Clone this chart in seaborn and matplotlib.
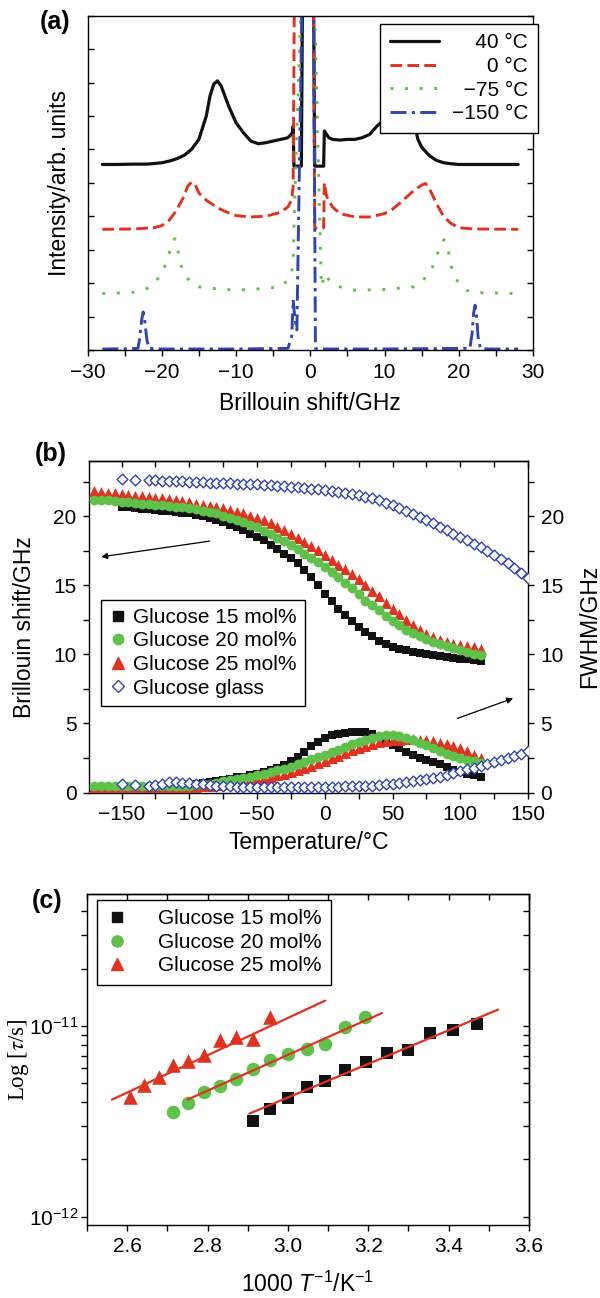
import matplotlib
matplotlib.use('Agg')
import matplotlib.pyplot as plt
import seaborn as sns
import pandas as pd
from matplotlib.lines import Line2D
from matplotlib.ticker import MultipleLocator, LogLocator, NullFormatter, FormatStrFormatter, FixedLocator

sns.set_theme(style='ticks')
plt.rcParams['font.family'] = ['Liberation Sans', 'DejaVu Sans']
plt.rcParams['mathtext.fontset'] = 'custom'
plt.rcParams['mathtext.rm'] = 'Liberation Sans'
plt.rcParams['mathtext.it'] = 'Liberation Sans:italic'
plt.rcParams['mathtext.bf'] = 'Liberation Sans:bold'
plt.rcParams['axes.linewidth'] = 1.0
plt.rcParams['axes.edgecolor'] = 'black'
plt.rcParams['xtick.color'] = 'black'
plt.rcParams['ytick.color'] = 'black'
plt.rcParams['text.color'] = 'black'
plt.rcParams['axes.labelcolor'] = 'black'

# ---------------- Panel (a): Brillouin spectra ----------------
spec40_x = [-28, -26, -24, -22, -20, -19, -18, -17, -16, -15, -14, -13.5, -13, -12.5, -12, -11.5, -11, -10,
            -9, -8, -7, -6, -5, -4, -3, -2.4, -2.3, -2.2, -1.2, -1.0, -0.5, 0.2, 0.4, 0.6, 1.8, 1.9, 2.5, 3,
            4, 5, 6, 7, 8, 9, 10, 11, 12, 12.5, 13, 13.5, 14, 14.5, 15, 16, 17, 18, 19, 20, 22, 24, 26, 28]
spec40_y = [5.55, 5.55, 5.56, 5.56, 5.6, 5.65, 5.72, 5.82, 6.0, 6.3, 7.0, 7.6, 7.95, 8.05, 7.9, 7.6, 7.3, 6.8,
            6.5, 6.25, 6.17, 6.2, 6.25, 6.3, 6.35, 6.5, 6.7, 5.5, 5.5, 12, 12, 12, 12, 5.5, 5.5, 6.55, 6.35, 6.3,
            6.28, 6.3, 6.3, 6.35, 6.45, 6.7, 6.9, 7.3, 7.8, 8.0, 7.9, 7.4, 6.8, 6.3, 6.07, 5.82, 5.67, 5.6, 5.57,
            5.55, 5.55, 5.55, 5.55, 5.55]
spec0_x = [-28, -24, -21, -20, -19, -18, -17, -16.5, -16, -15.5, -15, -14, -13, -12, -11, -10, -8, -6, -4, -3,
           -2.5, -2.3, -2.1, 0.4, 0.6, 1.8, 1.9, 2.2, 3, 4, 6, 8, 10, 11, 12, 13, 14, 15, 15.5, 16, 17, 18, 19,
           20, 22, 28]
spec0_y = [3.61, 3.62, 3.66, 3.72, 3.88, 4.18, 4.6, 4.9, 5.02, 4.95, 4.7, 4.48, 4.33, 4.2, 4.1, 4.02, 3.98, 4.0,
           4.12, 4.28, 4.5, 4.9, 12, 12, 3.65, 3.65, 5.0, 4.6, 4.28, 4.08, 3.98, 3.98, 4.08, 4.2, 4.38, 4.58,
           4.78, 4.93, 4.98, 4.85, 4.38, 3.98, 3.78, 3.66, 3.62, 3.61]
spec75_x = [-28, -24, -22, -21, -20, -19.5, -19, -18.5, -18.2, -18, -17.5, -17, -16, -15, -13, -10, -6, -4, -3,
            -2.5, -2.3, -2.1, -1.0, 0.4, 1.5, 2.0, 2.5, 3, 4, 6, 10, 14, 15, 16, 16.5, 17, 17.5, 18, 18.5, 19,
            19.5, 20, 21, 22, 28]
spec75_y = [1.69, 1.72, 1.84, 1.99, 2.29, 2.55, 2.89, 3.28, 3.33, 3.18, 2.59, 2.29, 1.99, 1.89, 1.84, 1.79,
            1.84, 1.89, 2.09, 2.34, 2.7, 4.5, 12, 12, 1.9, 2.29, 2.1, 1.99, 1.89, 1.79, 1.81, 1.89, 2.04, 2.29,
            2.5, 2.79, 3.13, 3.3, 3.08, 2.49, 2.2, 1.99, 1.79, 1.72, 1.69]
spec150_x = [-28, -24, -23.2, -23.0, -22.7, -22.5, -22.3, -22.0, -21.7, -20, -10, -3, -2.5, -2.3, -2.1, -1.8,
             -1.0, 0.4, 0.7, 1, 10, 21.5, 21.8, 22.0, 22.2, 22.4, 22.6, 22.9, 24, 28]
spec150_y = [0.03, 0.04, 0.05, 0.3, 0.9, 1.14, 0.9, 0.3, 0.05, 0.03, 0.03, 0.05, 0.4, 1.5, 1.0, 0.6, 12, 12,
             0.05, 0.03, 0.03, 0.05, 0.5, 1.1, 1.34, 1.0, 0.4, 0.05, 0.03, 0.03]
spec_labels = ['\u2007\u200740 \u00b0C', '\u2007\u2007\u20070 \u00b0C', '\u2007\u221275 \u00b0C', '\u2212150 \u00b0C']

# ---------------- Panel (b): Brillouin shift and FWHM vs T ----------------
T_15 = [-150, -145, -140, -135, -130, -125, -120, -115, -110, -105, -100, -95, -90, -85, -80, -75, -70, -65,
        -60, -55, -50, -45, -40, -35, -30, -25, -20, -15, -10, -5, 0, 5, 10, 15, 20, 25, 30, 35, 40, 45, 50,
        55, 60, 65, 70, 75, 80, 85, 90, 95, 100, 105, 110, 115]
bs_15 = [20.7, 20.65, 20.6, 20.55, 20.5, 20.45, 20.4, 20.35, 20.3, 20.25,
         20.2, 20.1, 20.0, 19.85, 19.7, 19.55, 19.4, 19.2, 19.0, 18.75,
         18.5, 18.25, 17.95, 17.65, 17.3, 16.95, 16.6, 16.1, 15.6, 15.0,
         14.4, 13.85, 13.3, 12.85, 12.4, 12.0, 11.6, 11.3, 11.0, 10.75,
         10.55, 10.42, 10.3, 10.2, 10.1, 10.02, 9.95, 9.88, 9.82, 9.76,
         9.7, 9.64, 9.58, 9.5]
fw_15 = [0.35, 0.35, 0.4, 0.4, 0.4, 0.45, 0.45, 0.5, 0.5, 0.55, 0.6, 0.65, 0.7,
         0.75, 0.83, 0.9, 1.0, 1.1, 1.15, 1.25, 1.34, 1.45, 1.6,
         1.75, 2.0, 2.25, 2.6, 2.95, 3.35, 3.65, 3.95, 4.15, 4.25,
         4.33, 4.38, 4.4, 4.35, 4.2, 4.0, 3.75, 3.45, 3.2, 2.95,
         2.75, 2.5, 2.35, 2.22, 2.05, 1.85, 1.65, 1.5, 1.35, 1.25, 1.15]
T_20 = [-170, -165, -160, -155] + T_15
bs_20 = [21.2, 21.2, 21.15, 21.1, 21.05, 21.0, 20.95, 20.92, 20.9, 20.85,
         20.8, 20.75, 20.7, 20.65, 20.6, 20.5, 20.4, 20.3, 20.2, 20.05,
         19.9, 19.75, 19.6, 19.4, 19.2, 18.95, 18.7, 18.45, 18.2, 17.9,
         17.6, 17.3, 17.0, 16.7, 16.35, 16.0, 15.6, 15.2, 14.8, 14.35,
         13.9, 13.55, 13.2, 12.8, 12.4, 12.1, 11.8, 11.55, 11.3, 11.1,
         10.9, 10.75, 10.6, 10.45, 10.3, 10.18, 10.05, 9.95]
fw_20 = [0.45, 0.45, 0.45, 0.45, 0.45, 0.45, 0.45, 0.45, 0.45, 0.45, 0.45, 0.45, 0.45, 0.5, 0.5, 0.55, 0.6, 0.65,
         0.72, 0.8, 0.88, 0.97, 1.06, 1.15, 1.24, 1.35, 1.47, 1.6,
         1.73, 1.88, 2.05, 2.22, 2.4, 2.6, 2.7, 2.9, 3.1, 3.3,
         3.5, 3.65, 3.82, 3.95, 4.08, 4.15, 4.18, 4.1, 3.95, 3.8,
         3.6, 3.42, 3.2, 3.0, 2.82, 2.65, 2.5, 2.38, 2.25, 2.15]
T_25 = T_20
bs_25 = [21.8, 21.75, 21.7, 21.65, 21.6, 21.55, 21.5, 21.45, 21.4, 21.35,
         21.3, 21.22, 21.15, 21.08, 21.0, 20.92, 20.85, 20.77, 20.7, 20.57,
         20.45, 20.32, 20.2, 20.05, 19.9, 19.7, 19.5, 19.25, 19.0, 18.72,
         18.45, 18.15, 17.85, 17.55, 17.2, 16.85, 16.5, 16.2, 15.85, 15.45,
         15.05, 14.6, 14.2, 13.75, 13.3, 12.9, 12.5, 12.15, 11.8, 11.5,
         11.25, 11.05, 10.9, 10.78, 10.68, 10.58, 10.5, 10.4]
fw_25 = [0.4, 0.4, 0.4, 0.4, 0.4, 0.4, 0.4, 0.4, 0.4, 0.4, 0.4, 0.4, 0.4, 0.4, 0.4,
         0.42, 0.45, 0.5, 0.55, 0.6, 0.65, 0.72, 0.8, 0.88, 0.96,
         1.05, 1.15, 1.25, 1.37, 1.5, 1.63, 1.78, 1.95, 2.12, 2.3,
         2.48, 2.67, 2.86, 3.05, 3.22, 3.38, 3.52, 3.63, 3.72, 3.78,
         3.82, 3.84, 3.84, 3.82, 3.77, 3.7, 3.6, 3.48, 3.35, 3.2,
         3.0, 2.75, 2.47]
T_glass = [-150, -140, -130, -125, -120, -115, -110, -105, -100, -95, -90, -85, -80, -75, -70, -65, -60, -55,
           -50, -45, -40, -35, -30, -25, -20, -15, -10, -5, 0, 5, 10, 15, 20, 25, 30, 35, 40, 45, 50, 55, 60,
           65, 70, 75, 80, 85, 90, 95, 100, 105, 110, 115, 120, 125, 130, 135, 140, 145, 150]
bs_glass = [22.7, 22.65,
            22.6, 22.6, 22.58, 22.56, 22.55, 22.53, 22.5, 22.48, 22.46, 22.44,
            22.42, 22.4, 22.38, 22.36, 22.34, 22.32, 22.3, 22.27, 22.24, 22.21,
            22.18, 22.14, 22.1, 22.05, 22.0, 21.95, 21.88, 21.82, 21.75, 21.68,
            21.6, 21.52, 21.42, 21.3, 21.15, 20.97, 20.8, 20.6, 20.35, 20.15,
            19.92, 19.7, 19.48, 19.25, 19.0, 18.75, 18.5, 18.28, 18.02, 17.78,
            17.5, 17.2, 16.9, 16.6, 16.25, 15.9, 15.55]
fw_glass = [0.6, 0.55,
            0.5, 0.55, 0.6, 0.75, 0.78, 0.72, 0.68, 0.62, 0.58, 0.52,
            0.48, 0.45, 0.44, 0.43, 0.42, 0.42, 0.42, 0.42, 0.42, 0.42,
            0.42, 0.42, 0.42, 0.42, 0.42, 0.42, 0.42, 0.43, 0.43, 0.44,
            0.45, 0.46, 0.48, 0.5, 0.53, 0.58, 0.64, 0.7, 0.77, 0.84,
            0.9, 0.97, 1.05, 1.15, 1.25, 1.4, 1.55, 1.68, 1.8, 1.93,
            2.08, 2.22, 2.36, 2.5, 2.62, 2.8, 2.97]
b_labels = ['Glucose 15 mol%', 'Glucose 20 mol%', 'Glucose 25 mol%', 'Glucose glass']

# ---------------- Panel (c): relaxation time ----------------
invT_15 = [2.913, 2.956, 3.001, 3.047, 3.093, 3.143, 3.194, 3.246, 3.299, 3.354, 3.411, 3.471]
tau_15 = [3.17e-12, 3.65e-12, 4.17e-12, 4.80e-12, 5.16e-12, 5.86e-12, 6.48e-12, 7.23e-12, 7.52e-12,
          9.19e-12, 9.57e-12, 1.03e-11]
invT_20 = [2.715, 2.752, 2.792, 2.830, 2.872, 2.913, 2.956, 3.001, 3.047, 3.093, 3.143, 3.193]
tau_20 = [3.55e-12, 3.95e-12, 4.51e-12, 4.83e-12, 5.30e-12, 5.98e-12, 6.67e-12, 7.11e-12, 7.61e-12,
          8.01e-12, 9.88e-12, 1.12e-11]
invT_25 = [2.607, 2.642, 2.679, 2.715, 2.752, 2.792, 2.830, 2.872, 2.913, 2.956]
tau_25 = [4.22e-12, 4.89e-12, 5.40e-12, 6.22e-12, 6.56e-12, 7.02e-12, 8.41e-12, 8.75e-12, 8.51e-12, 1.11e-11]
fit15_x = [2.904, 3.523]
fit15_y = [3.47e-12, 1.22e-11]
fit20_x = [2.750, 3.234]
fit20_y = [4.11e-12, 1.17e-11]
fit25_x = [2.562, 3.093]
fit25_y = [4.11e-12, 1.36e-11]
c_labels = ['Glucose 15 mol%', 'Glucose 20 mol%', 'Glucose 25 mol%']
c_major = [1e-12, 1e-11]
c_minor = [2e-12, 3e-12, 4e-12, 5e-12, 6e-12, 7e-12, 8e-12, 9e-12, 2e-11, 3e-11, 4e-11]

# ---------------- styling ----------------
BLACK = '#111111'
RED = '#e0321f'
GREEN = '#5fc04a'
BLUE = '#2f45b0'
FS = 15
LFS = 16.5
W, H = 600, 1298

fig = plt.figure(figsize=(6.0, 12.98), dpi=100)


def axes_px(left, top, right, bottom):
    return fig.add_axes([left / W, 1 - bottom / H, (right - left) / W, (bottom - top) / H])


# ===== (a) =====
axa = axes_px(87.5, 15.7, 533, 350)
styles_a = [
    (spec40_x, spec40_y, BLACK, '-', 2.3),
    (spec0_x, spec0_y, RED, (0, (4.0, 1.8)), 2.1),
    (spec75_x, spec75_y, GREEN, (0, (1.0, 4.0)), 2.1),
    (spec150_x, spec150_y, BLUE, (0, (5.5, 1.8, 1.1, 1.8)), 2.1),
]
handles_a = []
for (xs, ys, col, ls, lw), lab in zip(styles_a, spec_labels):
    df = pd.DataFrame({'x': xs, 'y': ys})
    sns.lineplot(data=df, x='x', y='y', ax=axa, sort=False, estimator=None, color=col,
                 linewidth=lw, linestyle=ls)
    handles_a.append(Line2D([], [], color=col, lw=lw, linestyle=ls))
axa.set_xlim(-30, 30)
axa.set_ylim(0, 10)
axa.xaxis.set_major_locator(MultipleLocator(10))
axa.xaxis.set_minor_locator(MultipleLocator(5))
axa.yaxis.set_major_locator(MultipleLocator(1))
axa.tick_params(axis='x', which='both', direction='out', length=4, width=1, labelsize=FS, pad=5,
                bottom=True, top=False)
axa.tick_params(axis='y', which='both', direction='in', length=4, width=1, left=True, right=True,
                labelleft=False)
axa.set_xlabel('Brillouin shift/GHz', fontsize=LFS)
axa.set_ylabel('Intensity/arb. units', fontsize=LFS)
axa.xaxis.set_label_coords(0.5, -0.16)
axa.xaxis.label.set_va('center')
axa.yaxis.set_label_coords(-0.062, 0.5)
axa.yaxis.label.set_va('center')
leg = axa.legend(handles_a, spec_labels, loc='upper right', bbox_to_anchor=(1.011, 0.975),
                 fontsize=FS, frameon=True, fancybox=False, framealpha=1, edgecolor='black',
                 handlelength=2.35, handletextpad=0.65, labelspacing=0.22, borderpad=0.45,
                 borderaxespad=0)
leg.get_frame().set_linewidth(1.0)
leg.set_zorder(10)

# ===== (b) =====
axb = axes_px(89, 461, 528, 792.5)
sets_b = [
    (T_15, bs_15, fw_15, 's', 40, BLACK, BLACK, 0.0),
    (T_25, bs_25, fw_25, '^', 62, RED, RED, 0.0),
    (T_20, bs_20, fw_20, 'o', 50, GREEN, GREEN, 0.0),
    (T_glass, bs_glass, fw_glass, 'D', 30, 'white', BLUE, 1.0),
]
for T, bs, fw, mk, sz, fc, ec, ew in sets_b:
    df = pd.DataFrame({'T': T + T, 'v': bs + fw})
    sns.scatterplot(data=df, x='T', y='v', ax=axb, marker=mk, s=sz, color=fc, edgecolor=ec,
                    linewidth=ew, zorder=3)
axb.set_xlim(-174, 150)
axb.set_ylim(0, 24)
axb.xaxis.set_major_locator(MultipleLocator(50))
axb.xaxis.set_minor_locator(MultipleLocator(25))
axb.yaxis.set_major_locator(MultipleLocator(5))
axb.yaxis.set_minor_locator(MultipleLocator(2.5))
axb.tick_params(axis='x', which='both', direction='out', length=4, width=1, labelsize=FS, pad=5)
axb.tick_params(axis='y', which='both', direction='out', length=4, width=1, labelsize=FS, pad=5,
                left=True, right=True, labelleft=True, labelright=True)
secb = axb.secondary_xaxis('top')
secb.xaxis.set_major_locator(MultipleLocator(50))
secb.xaxis.set_minor_locator(MultipleLocator(25))
secb.tick_params(axis='x', which='both', direction='in', length=4, width=1, labeltop=False)
axb.set_xlabel('Temperature/\u00b0C', fontsize=LFS)
axb.set_ylabel('Brillouin shift/GHz', fontsize=LFS)
axb.xaxis.set_label_coords(0.5, -0.152)
axb.xaxis.label.set_va('center')
axb.yaxis.set_label_coords(-0.146, 0.5)
axb.yaxis.label.set_va('center')
axb.text(1.141, 0.5, 'FWHM/GHz', rotation=90, fontsize=LFS, transform=axb.transAxes,
         ha='center', va='center')
axb.annotate('', xy=(-165, 17.06), xytext=(-85, 18.2),
             arrowprops=dict(arrowstyle='-|>', color='black', lw=0.9, mutation_scale=9,
                             shrinkA=0, shrinkB=0))
axb.annotate('', xy=(139, 6.82), xytext=(98, 5.37),
             arrowprops=dict(arrowstyle='-|>', color='black', lw=0.9, mutation_scale=9,
                             shrinkA=0, shrinkB=0))
handles_b = [
    Line2D([], [], ls='none', marker='s', ms=6.5, color=BLACK),
    Line2D([], [], ls='none', marker='o', ms=7.5, color=GREEN),
    Line2D([], [], ls='none', marker='^', ms=8, color=RED),
    Line2D([], [], ls='none', marker='D', ms=6, mfc='white', mec=BLUE, mew=1.0),
]
legb = axb.legend(handles_b, b_labels, loc='upper left', bbox_to_anchor=(0.027, 0.582), fontsize=FS,
                  frameon=True, fancybox=False, framealpha=1, edgecolor='black', handlelength=0.8,
                  handletextpad=0.35, labelspacing=0.22, borderpad=0.4, borderaxespad=0)
legb.get_frame().set_linewidth(1.0)

# ===== (c) =====
axc = axes_px(87, 894, 529, 1225)
axc.set_yscale('log')
sets_c = [
    (invT_15, tau_15, fit15_x, fit15_y, 's', 80, BLACK),
    (invT_20, tau_20, fit20_x, fit20_y, 'o', 95, GREEN),
    (invT_25, tau_25, fit25_x, fit25_y, '^', 110, RED),
]
for xs, ys, fx, fy, mk, sz, col in sets_c:
    sns.scatterplot(x=xs, y=ys, ax=axc, marker=mk, s=sz, color=col, edgecolor=col, linewidth=0, zorder=3)
    sns.lineplot(x=fx, y=fy, ax=axc, color=RED, linewidth=1.6, sort=False, estimator=None, zorder=4)
axc.set_xlim(2.5, 3.6)
axc.set_ylim(10 ** -12.044, 10 ** -10.307)
axc.xaxis.set_major_locator(MultipleLocator(0.2))
axc.xaxis.set_minor_locator(MultipleLocator(0.1))
axc.yaxis.set_major_locator(FixedLocator(c_major))
axc.yaxis.set_minor_locator(FixedLocator(c_minor))
axc.yaxis.set_minor_formatter(NullFormatter())
axc.xaxis.set_major_formatter(FormatStrFormatter('%.1f'))
axc.tick_params(axis='x', which='both', direction='out', length=4, width=1, labelsize=FS, pad=5)
axc.tick_params(axis='y', which='both', direction='out', length=4, width=1, labelsize=FS, pad=2.5,
                left=True, right=False)
secc_x = axc.secondary_xaxis('top')
secc_x.xaxis.set_major_locator(MultipleLocator(0.1))
secc_x.tick_params(axis='x', which='both', direction='in', length=4, width=1, labeltop=False)
secc_y = axc.secondary_yaxis('right')
secc_y.set_yscale('log')
secc_y.yaxis.set_major_locator(FixedLocator(c_major))
secc_y.yaxis.set_minor_locator(FixedLocator(c_minor))
secc_y.yaxis.set_minor_formatter(NullFormatter())
secc_y.tick_params(axis='y', which='both', direction='in', length=4, width=1, labelright=False)
axc.set_xlabel(r'1000 $T^{-1}$/K$^{-1}$', fontsize=LFS)
axc.xaxis.set_label_coords(0.5, -0.178)
axc.xaxis.label.set_va('center')
axc.set_ylabel(r'Log [$\tau$/s]', fontsize=LFS, family=['Liberation Serif', 'DejaVu Serif'],
               math_fontfamily='stix')
axc.yaxis.set_label_coords(-0.156, 0.5)
axc.yaxis.label.set_va('center')
handles_c = [
    Line2D([], [], ls='none', marker='s', ms=7, color=BLACK),
    Line2D([], [], ls='none', marker='o', ms=8, color=GREEN),
    Line2D([], [], ls='none', marker='^', ms=8.5, color=RED),
]
legc = axc.legend(handles_c, c_labels, loc='upper left', bbox_to_anchor=(0.0226, 0.982), fontsize=FS,
                  frameon=True, fancybox=False, framealpha=1, edgecolor='black', handlelength=1.0,
                  handletextpad=1.5, labelspacing=0.22, borderpad=0.45, borderaxespad=0)
legc.get_frame().set_linewidth(1.0)

# panel letters
for lab, x, y in [('(a)', 55, 22), ('(b)', 51, 454), ('(c)', 47, 901)]:
    fig.text(x / W, 1 - y / H, lab, fontsize=18, fontweight='bold', ha='center', va='center')

fig.savefig('out.png', dpi=100)
